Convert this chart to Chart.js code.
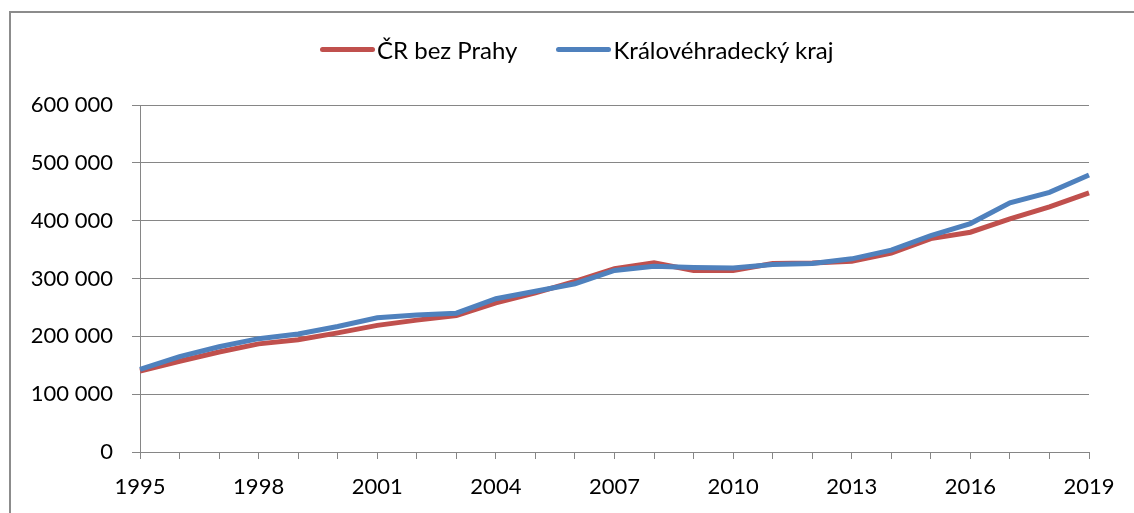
<!DOCTYPE html>
<html>
<head>
<meta charset="utf-8">
<script src="https://cdn.jsdelivr.net/npm/chart.js@4"></script>
<style>
    body { margin: 0; background: #fff; overflow: hidden; }
    #wrap { position: relative; width: 1134px; height: 513px; overflow: hidden; }
    #frame { position: absolute; left: 9px; top: 11px; width: 2000px; height: 2000px;
             border-left: 2px solid #8c8c8c; border-top: 2px solid #8c8c8c; }
    #legend { position: absolute; left: 320px; top: 35px; display: flex; align-items: center;
              font-family: Lato, sans-serif; font-size: 24px; color: #000; }
    .item { display: flex; align-items: center; margin-right: 39px; }
    .swatch { width: 55px; height: 5px; border-radius: 3px; margin-right: 2px; }
</style>
</head>
<body>
<div id="wrap">
    <div id="frame"></div>
    <canvas id="chart" width="1134" height="513"></canvas>
    <div id="legend"></div>
</div>
<script>
const years = ['1995', '1996', '1997', '1998', '1999', '2000', '2001', '2002', '2003', '2004',
               '2005', '2006', '2007', '2008', '2009', '2010', '2011', '2012', '2013', '2014',
               '2015', '2016', '2017', '2018', '2019'];
const crBezPrahy = [140000, 157000, 173000, 187000, 194000, 206000, 219000, 228000, 236000, 258000,
                    275000, 295000, 317000, 327000, 314000, 314000, 326000, 327000, 330000, 344000,
                    369000, 380000, 403000, 424000, 448000];
const kralovehradecky = [143000, 165000, 182000, 196000, 204000, 217000, 232000, 237000, 240000, 265000,
                         278000, 291000, 314000, 321000, 319000, 318000, 324000, 326000, 334000, 349000,
                         374000, 395000, 431000, 449000, 479000];
const yTicks = [0, 100000, 200000, 300000, 400000, 500000, 600000];

Chart.defaults.font.family = 'Lato, sans-serif';
Chart.defaults.font.size = 22;
Chart.defaults.color = '#000';

const gridGray = '#868686';

const ctx = document.getElementById('chart').getContext('2d');
const chart = new Chart(ctx, {
    type: 'line',
    data: {
        labels: years,
        datasets: [{
            label: 'ČR bez Prahy',
            data: crBezPrahy,
            borderColor: '#C0504D',
            backgroundColor: '#C0504D',
            borderWidth: 5,
            pointRadius: 0,
            tension: 0,
            order: 1
        }, {
            label: 'Královéhradecký kraj',
            data: kralovehradecky,
            borderColor: '#4F81BD',
            backgroundColor: '#4F81BD',
            borderWidth: 5,
            pointRadius: 0,
            tension: 0,
            order: 0
        }]
    },
    options: {
        responsive: false,
        animation: false,
        layout: { padding: { top: 105, right: 45, bottom: 0, left: 0 } },
        plugins: {
            legend: { display: false },
            tooltip: { enabled: false }
        },
        scales: {
            x: {
                offset: false,
                grid: { drawOnChartArea: false, drawTicks: true, tickLength: 7, color: gridGray },
                border: { color: gridGray },
                ticks: {
                    autoSkip: false,
                    maxRotation: 0,
                    padding: 15,
                    callback: function(val, i) { return i % 3 === 0 ? years[i] : ''; }
                },
                afterFit: function(scale) { scale.height = 61; }
            },
            y: {
                min: 0,
                max: 600000,
                afterBuildTicks: function(scale) { scale.ticks = yTicks.map(v => ({ value: v })); },
                grid: { color: gridGray, tickLength: 8 },
                border: { color: gridGray },
                ticks: {
                    padding: 19,
                    callback: v => v === 0 ? '0' : String(v).replace(/\B(?=(\d{3})+(?!\d))/g, ' ')
                },
                afterFit: function(scale) { scale.width = 140; }
            }
        }
    }
});

// HTML legend
const legendEl = document.getElementById('legend');
chart.data.datasets.forEach(ds => {
    const item = document.createElement('div');
    item.className = 'item';
    item.innerHTML = '<span class="swatch" style="background:' + ds.borderColor + '"></span><span>' + ds.label + '</span>';
    legendEl.appendChild(item);
});
</script>
</body>
</html>
